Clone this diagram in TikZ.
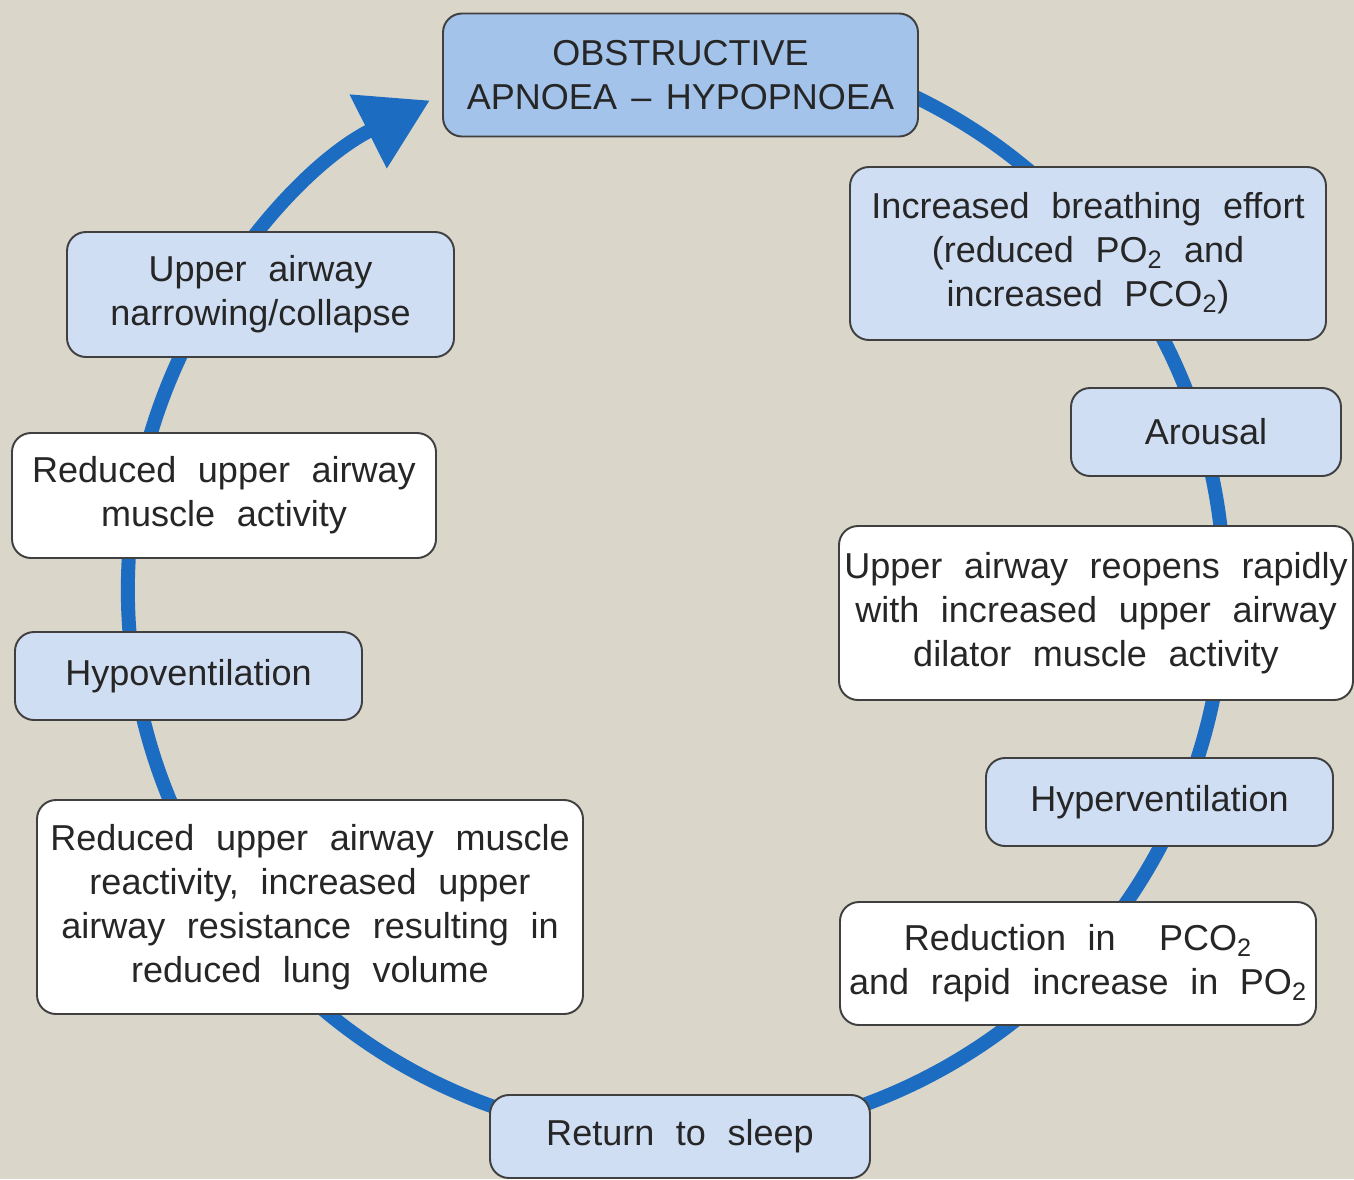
\documentclass[tikz,border=0pt]{standalone}
\usepackage{fontspec}
\setmainfont{Liberation Sans}
\usetikzlibrary{arrows.meta}

\definecolor{bgsand}{HTML}{DAD6CA}
\definecolor{headblue}{HTML}{A3C3EA}
\definecolor{paleblue}{HTML}{D0DEF4}
\definecolor{boxedge}{HTML}{404040}
\definecolor{loopblue}{HTML}{1C6DC1}
\newcommand{\boxfont}{\fontsize{20.5}{25}\selectfont\spaceskip=0.6em\relax}

\begin{document}
\begin{tikzpicture}[
    box/.style={rectangle, draw=boxedge, line width=1.1pt, rounded corners=0.38cm,
      inner sep=0pt, align=center, text=black!85, font=\boxfont},
    head/.style={box, fill=headblue},
    pale/.style={box, fill=paleblue},
    plain/.style={box, fill=white},
    loopline/.style={draw=loopblue, line width=0.28cm,
      -{Triangle[length=1.38cm, width=1.58cm]}},
  ]
    \fill[bgsand] (0,0) rectangle (27.08,-23.58);
    \useasboundingbox (0,0) rectangle (27.08,-23.58);

    % the cycle, behind the boxes
    \coordinate (cyc) at (13.52,-11.8);
    \coordinate (loopstart) at ([shift={(70:10.96)}]cyc);
    \draw[loopline] (loopstart) arc[start angle=70, end angle=-243.3, radius=10.96];

    \node[head, minimum width=9.5cm, minimum height=2.46cm]   (osa)    at (13.61,-1.5)
      {OBSTRUCTIVE\\APNOEA\hspace{0.4em}--\hspace{0.4em}HYPOPNOEA};
    \node[pale, minimum width=9.52cm, minimum height=3.46cm]  (effort) at (21.76,-5.07)
      {Increased breathing effort\\(reduced PO\textsubscript{2} and\\increased PCO\textsubscript{2})};
    \node[pale, minimum width=5.4cm, minimum height=1.76cm]   (arousal) at (24.12,-8.64) {Arousal};
    \node[plain, minimum width=10.28cm, minimum height=3.48cm] (reopen) at (21.92,-12.26)
      {Upper airway reopens rapidly\\with increased upper airway\\dilator muscle activity};
    \node[pale, minimum width=6.94cm, minimum height=1.76cm]  (hyper)  at (23.19,-16.04) {Hyperventilation};
    \node[plain, minimum width=9.52cm, minimum height=2.46cm] (gases)  at (21.56,-19.27)
      {Reduction in \ PCO\textsubscript{2}\\and rapid increase in PO\textsubscript{2}};
    \node[pale, minimum width=7.6cm, minimum height=1.66cm]   (sleep)  at (13.6,-22.73) {Return to sleep};
    \node[plain, minimum width=10.92cm, minimum height=4.28cm] (react) at (6.2,-18.14)
      {Reduced upper airway muscle\\reactivity, increased upper\\airway resistance resulting in\\reduced lung volume};
    \node[pale, minimum width=6.94cm, minimum height=1.76cm]  (hypo)   at (3.77,-13.52) {Hypoventilation};
    \node[plain, minimum width=8.48cm, minimum height=2.5cm]  (tone)   at (4.48,-9.91)
      {Reduced upper airway\\muscle activity};
    \node[pale, minimum width=7.74cm, minimum height=2.5cm]   (narrow) at (5.21,-5.89)
      {Upper airway\\narrowing/collapse};
\end{tikzpicture}
\end{document}
